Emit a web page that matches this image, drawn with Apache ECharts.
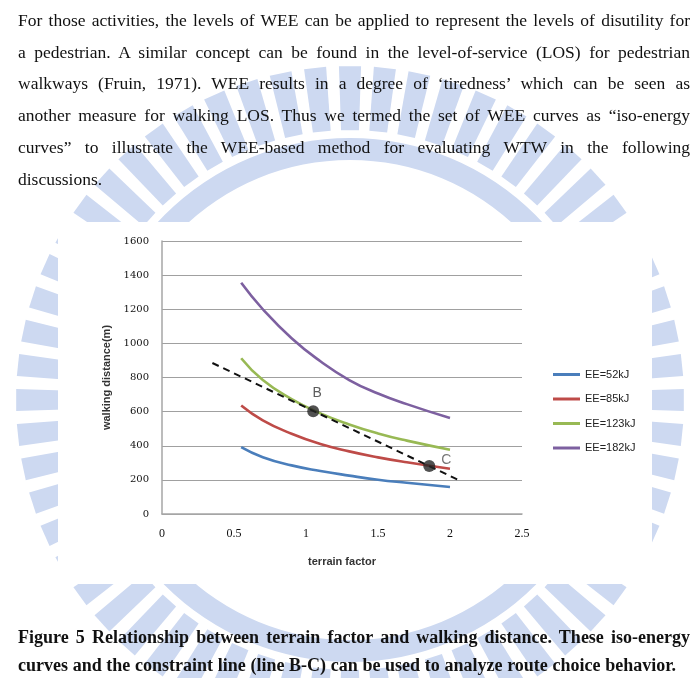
<!DOCTYPE html>
<html>
<head>
<meta charset="utf-8">
<title>terrain factor vs walking distance</title>
<script src="https://cdn.jsdelivr.net/npm/echarts@6/dist/echarts.min.js"></script>
<style>
  html, body { margin: 0; padding: 0; background: #fff; }
  #page { position: relative; width: 698px; height: 678px; overflow: hidden; }
  #chart { position: absolute; left: 0; top: 0; width: 698px; height: 678px; }
  .ln { position: absolute; left: 18px; white-space: nowrap; color: #111;
        font-family: 'Liberation Serif', 'Times New Roman', serif; line-height: 20px; }
  .body { font-size: 17.5px; }
  .cap { font-size: 18px; font-weight: bold; }
</style>
</head>
<body>
<div id="page">
  <div id="chart"></div>
  <div class="ln body" data-w="672" style="top:10px"><span>For those activities, the levels of WEE can be applied to represent the levels of disutility for</span></div>
  <div class="ln body" data-w="672" style="top:42px"><span>a pedestrian. A similar concept can be found in the level-of-service (LOS) for pedestrian</span></div>
  <div class="ln body" data-w="672" style="top:73px"><span>walkways (Fruin, 1971). WEE results in a degree of ‘tiredness’ which can be seen as</span></div>
  <div class="ln body" data-w="672" style="top:105px"><span>another measure for walking LOS. Thus we termed the set of WEE curves as “iso-energy</span></div>
  <div class="ln body" data-w="672" style="top:137px"><span>curves” to illustrate the WEE-based method for evaluating WTW in the following</span></div>
  <div class="ln body" style="top:169px"><span>discussions.</span></div>
  <div class="ln cap" data-w="672" style="top:627px"><span>Figure 5 Relationship between terrain factor and walking distance. These iso-energy</span></div>
  <div class="ln cap" data-w="658" style="top:655px"><span>curves and the constraint line (line B-C) can be used to analyze route choice behavior.</span></div>
</div>
<script>
// terrain factor (x) and walking distance (m) for each iso-energy curve
const terrain = [0.55, 0.7, 0.9, 1.1, 1.3, 1.5, 1.7, 2.0]
const ee52 = [392, 333, 285, 252, 225, 201, 183, 158]
const ee85 = [636, 549, 470, 410, 367, 332, 303, 265]
const ee123 = [913, 785, 673, 590, 525, 472, 430, 377]
const ee182 = [1355, 1200, 1030, 895, 785, 706, 644, 562]
const curveNames = ['EE=52kJ', 'EE=85kJ', 'EE=123kJ', 'EE=182kJ']
const curveColors = ['#4a7ebb', '#be4b48', '#98b954', '#7d60a0']

// constraint line B-C
const lineX = [0.35, 2.07]
const lineY = [885, 195]
const pointNames = ['B', 'C']
const pointX = [1.05, 1.856]
const pointY = [602, 281]

const xTicks = [0, 0.5, 1, 1.5, 2, 2.5]
const yTicks = [0, 200, 400, 600, 800, 1000, 1200, 1400, 1600]

// fit justified lines to their width
document.querySelectorAll('.ln[data-w]').forEach(function (el) {
  const span = el.querySelector('span')
  const w = span.getBoundingClientRect().width
  const spaces = (span.textContent.match(/ /g) || []).length
  el.style.wordSpacing = ((+el.dataset.w - w) / spaces) + 'px'
})

// background seal (light blue ring of bars)
function watermark () {
  const cx = 350, cy = 400
  const items = []
  const col = '#cdd9f1'
  for (let a = 0; a < 360; a += 6) {
    const a0 = (a - 1.9) * Math.PI / 180
    const a1 = (a + 1.9) * Math.PI / 180
    const r0 = 270, r1 = 334
    items.push({
      type: 'polygon', z: -100, silent: true,
      shape: { points: [
        [cx + r0 * Math.cos(a0), cy + r0 * Math.sin(a0)],
        [cx + r1 * Math.cos(a0), cy + r1 * Math.sin(a0)],
        [cx + r1 * Math.cos(a1), cy + r1 * Math.sin(a1)],
        [cx + r0 * Math.cos(a1), cy + r0 * Math.sin(a1)]
      ] },
      style: { fill: col }
    })
  }
  items.push({ type: 'ring', z: -100, silent: true, shape: { cx: cx, cy: cy, r: 262, r0: 240 }, style: { fill: col } })
  // white chart panel
  items.push({ type: 'rect', z: -50, silent: true, shape: { x: 58, y: 222, width: 594, height: 362 }, style: { fill: '#fff' } })
  return items
}

const chart = echarts.init(document.getElementById('chart'))

const series = [ee52, ee85, ee123, ee182].map(function (vals, i) {
  return {
    name: curveNames[i],
    type: 'line',
    smooth: true,
    showSymbol: false,
    color: curveColors[i],
    lineStyle: { width: 2.6, color: curveColors[i] },
    data: terrain.map(function (t, j) { return [t, vals[j]] }),
    z: 3
  }
})

series.push({
  name: 'constraint',
  type: 'line',
  showSymbol: false,
  silent: true,
  lineStyle: { width: 2, color: '#111', type: [7, 5] },
  data: lineX.map(function (x, j) { return [x, lineY[j]] }),
  z: 4
})

series.push({
  name: 'points',
  type: 'scatter',
  symbolSize: 12,
  itemStyle: { color: '#262626' },
  data: pointNames.map(function (n, j) {
    return {
      name: n,
      value: [pointX[j], pointY[j]],
      label: j === 0
        ? { show: true, position: 'top', offset: [4, 0], color: '#333' }
        : { show: true, position: 'right', offset: [1, -6], color: '#555' }
    }
  }),
  label: { formatter: '{b}', fontFamily: 'Liberation Sans', fontSize: 14 },
  z: 5
})

chart.setOption({
  animation: false,
  backgroundColor: 'transparent',
  graphic: { elements: watermark() },
  grid: { left: 162, right: 176, top: 241, bottom: 164 },
  legend: {
    data: curveNames,
    orient: 'vertical',
    left: 548,
    top: 363,
    icon: 'rect',
    itemWidth: 27,
    itemHeight: 3,
    itemGap: 11.5,
    textStyle: { fontFamily: 'Liberation Sans', fontSize: 11, color: '#222', lineHeight: 13 }
  },
  xAxis: {
    type: 'value',
    min: xTicks[0],
    max: xTicks[xTicks.length - 1],
    interval: 0.5,
    name: 'terrain factor',
    nameLocation: 'middle',
    nameGap: 42,
    nameTextStyle: { fontFamily: 'Liberation Sans', fontWeight: 'bold', fontSize: 11, color: '#333' },
    axisLine: { show: true, lineStyle: { color: '#a6a6a6', width: 1.5 } },
    axisTick: { show: false },
    splitLine: { show: false },
    axisLabel: { margin: 14, fontFamily: 'Liberation Serif', fontSize: 12, color: '#111', formatter: function (v) { return String(v) } }
  },
  yAxis: {
    type: 'value',
    min: yTicks[0],
    max: yTicks[yTicks.length - 1],
    interval: 200,
    name: 'walking distance(m)',
    nameLocation: 'middle',
    nameGap: 50,
    nameTextStyle: { fontFamily: 'Liberation Sans', fontWeight: 'bold', fontSize: 11, color: '#333' },
    axisLine: { show: true, lineStyle: { color: '#a6a6a6', width: 1.5 } },
    axisTick: { show: false },
    splitLine: { show: true, lineStyle: { color: '#a0a0a0', width: 1.2 } },
    axisLabel: { margin: 13, fontFamily: 'DejaVu Serif', fontSize: 10, color: '#111', formatter: function (v) { return String(v) } }
  },
  series: series
})
</script>
</body>
</html>
